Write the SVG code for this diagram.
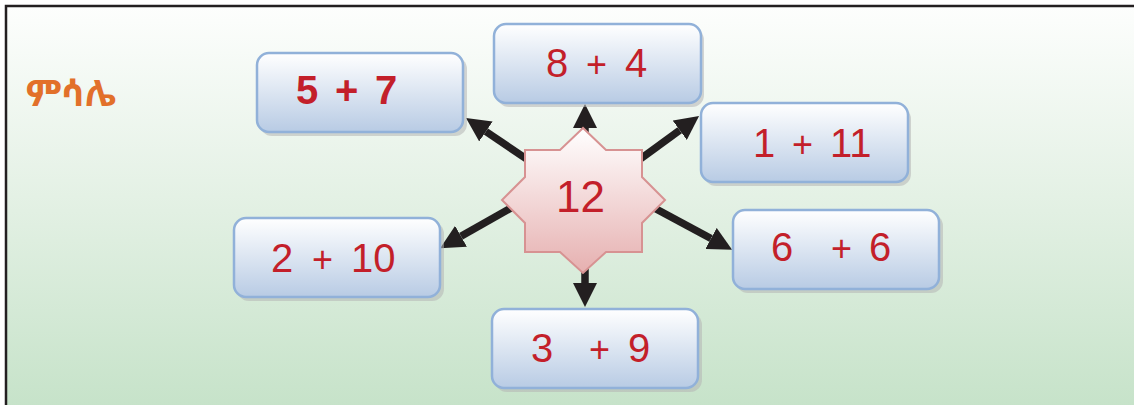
<svg xmlns="http://www.w3.org/2000/svg" width="1134" height="405" viewBox="0 0 1134 405">
<defs>
<linearGradient id="bg" x1="0" y1="0" x2="0" y2="1">
<stop offset="0" stop-color="#fdfefd"/>
<stop offset="0.5" stop-color="#e2f0e3"/>
<stop offset="1" stop-color="#c5e2c8"/>
</linearGradient>
<linearGradient id="boxg" x1="0" y1="0" x2="0" y2="1">
<stop offset="0" stop-color="#ffffff"/>
<stop offset="1" stop-color="#b8cbe4"/>
</linearGradient>
<linearGradient id="starg" x1="0" y1="0" x2="0" y2="1">
<stop offset="0" stop-color="#ffffff"/>
<stop offset="1" stop-color="#e6b0b0"/>
</linearGradient>
<marker id="ah" viewBox="0 0 24 24" refX="0" refY="12" markerWidth="24" markerHeight="24" markerUnits="userSpaceOnUse" orient="auto">
<path d="M0,0 L24,12 L0,24 z" fill="#231f20"/>
</marker>
</defs>
<style>
.box{fill:url(#boxg);stroke:#91b1d9;stroke-width:2.5}
.sh{fill:#b4b4b4;opacity:0.55}
.t{font-family:"Liberation Sans",Arial,sans-serif;font-size:40px;fill:#c31f2a}
.b{font-weight:bold}
.p{font-size:36px}
.arr{stroke:#231f20;stroke-width:7.5;fill:none;marker-end:url(#ah)}
</style>
<rect x="6" y="6" width="1140" height="410" fill="url(#bg)" stroke="#231f20" stroke-width="2.5"/>
<text id="title" x="26" y="106" style="font-family:'Noto Sans Ethiopic','Abyssinica SIL','DejaVu Sans',sans-serif;font-size:36px;font-weight:bold;fill:#e2702a">ምሳሌ</text>
<g id="connectors">
<line class="arr" x1="585" y1="160" x2="585" y2="128"/>
<line class="arr" x1="540" y1="168" x2="485.9" y2="131.5"/>
<line class="arr" x1="628" y1="168" x2="679.7" y2="130.2"/>
<line class="arr" x1="525" y1="200" x2="461" y2="236.3"/>
<line class="arr" x1="645" y1="203" x2="711" y2="238.5"/>
<line class="arr" x1="585" y1="250" x2="585" y2="283"/>
</g>
<g id="center">
<path d="M583,128 L560,150 L525,150 L525,177 L502,200 L525,223 L525,252 L560,252 L583,273 L606,252 L642,252 L642,223 L665,200 L642,177 L642,150 L606,150 Z" fill="url(#starg)" stroke="#d79292" stroke-width="2"/>
<text class="t" x="556" y="212" style="font-size:44px">12</text>
</g>
<g id="n57">
<rect class="sh" x="260" y="57" width="207" height="79" rx="12"/>
<rect class="box" x="257" y="53" width="206" height="79" rx="12"/>
<text class="t b" y="104"><tspan x="296">5</tspan><tspan x="335">+</tspan><tspan x="375">7</tspan></text>
</g>
<g id="n84">
<rect class="sh" x="497" y="28" width="207" height="79" rx="12"/>
<rect class="box" x="494" y="24" width="207" height="79" rx="12"/>
<text class="t" y="77"><tspan x="546">8</tspan><tspan class="p" x="586">+</tspan><tspan x="625">4</tspan></text>
</g>
<g id="n111">
<rect class="sh" x="704" y="107" width="207" height="79" rx="12"/>
<rect class="box" x="701" y="103" width="207" height="79" rx="12"/>
<text class="t" y="157"><tspan x="753">1</tspan><tspan class="p" x="792">+</tspan><tspan x="830">11</tspan></text>
</g>
<g id="n210">
<rect class="sh" x="237" y="222" width="207" height="79" rx="12"/>
<rect class="box" x="234" y="218" width="206" height="79" rx="12"/>
<text class="t" y="272"><tspan x="271">2</tspan><tspan class="p" x="312">+</tspan><tspan x="351">10</tspan></text>
</g>
<g id="n66">
<rect class="sh" x="736" y="214" width="207" height="79" rx="12"/>
<rect class="box" x="733" y="210" width="206" height="79" rx="12"/>
<text class="t" y="261"><tspan x="771">6</tspan><tspan class="p" x="831">+</tspan><tspan x="869">6</tspan></text>
</g>
<g id="n39">
<rect class="sh" x="495" y="313" width="207" height="79" rx="12"/>
<rect class="box" x="492" y="309" width="206" height="79" rx="12"/>
<text class="t" y="362"><tspan x="531">3</tspan><tspan class="p" x="589">+</tspan><tspan x="628">9</tspan></text>
</g>
</svg>
